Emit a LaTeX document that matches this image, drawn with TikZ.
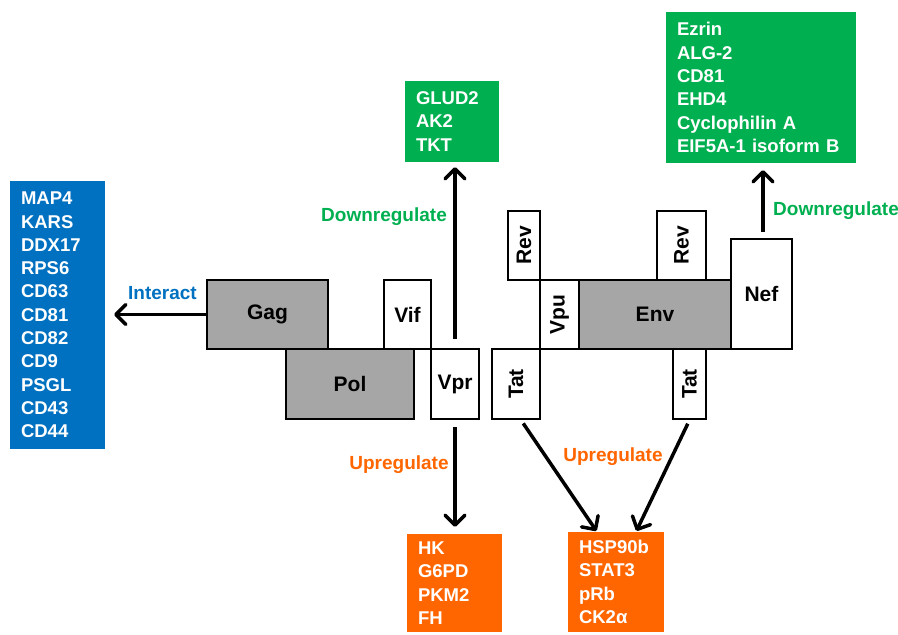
\documentclass[tikz,border=0pt]{standalone}
\usepackage{graphicx}
\usepackage{fontspec}
\setmainfont{Liberation Sans}
\usepackage{xcolor}
\usepackage{tikz}
\usetikzlibrary{arrows.meta,positioning,calc}

\definecolor{listblue}{HTML}{0070C0}
\definecolor{listgreen}{HTML}{00B050}
\definecolor{listorange}{HTML}{FF6600}
\definecolor{genegray}{HTML}{A6A6A6}

\begin{document}
\begin{tikzpicture}[x=1pt,y=-1pt,
  gene/.style={draw,line width=2.2pt,fill=white,inner sep=0pt,font=\fontsize{21}{24}\selectfont\bfseries},
  list/.style={fill=#1,text=white,align=left,inner xsep=11pt,inner ysep=0pt,font=\fontsize{18.5}{23.3}\selectfont\bfseries},
  lab/.style={text=#1,inner sep=0pt,font=\fontsize{19}{22}\selectfont\bfseries},
  arr/.style={->,line width=3.5pt},
  >={Straight Barb[length=10pt,width=20pt,round]}]
  \useasboundingbox (0,0) rectangle (898,635);
  % genome
  \node[gene,fill=genegray,minimum width=121pt,minimum height=69pt] (gag) at (267.5,314.5) {Gag};
  \node[gene,minimum width=47pt,minimum height=69pt] (vif) at (407.5,314.5) {Vif};
  \node[gene,fill=genegray,minimum width=128pt,minimum height=70pt] (pol) at (350,384) {Pol};
  \node[gene,minimum width=48pt,minimum height=70pt] (vpr) at (455,384) {Vpr};
  \node[gene,minimum width=48pt,minimum height=70pt] (tat1) at (516,384) {\rotatebox{90}{Tat}};
  \node[gene,minimum width=32pt,minimum height=69pt] (rev1) at (524,245.5) {\rotatebox{90}{Rev}};
  \node[gene,minimum width=39pt,minimum height=69pt] (vpu) at (559.5,314.5) {\rotatebox{90}{Vpu}};
  \node[gene,fill=genegray,minimum width=152pt,minimum height=69pt] (env) at (655,314.5) {Env};
  \node[gene,minimum width=49pt,minimum height=69pt] (rev2) at (681.5,245.5) {\rotatebox{90}{Rev}};
  \node[gene,minimum width=61pt,minimum height=110pt] (nef) at (761.5,294) {Nef};
  \node[gene,minimum width=33pt,minimum height=70pt] (tat2) at (689.5,384) {\rotatebox{90}{Tat}};
  % host factors
  \node[list=listblue,text width=73pt,minimum height=268pt] (hostbox) at (57.5,315)
    {MAP4\\KARS\\DDX17\\RPS6\\CD63\\CD81\\CD82\\CD9\\PSGL\\CD43\\CD44};
  \node[list=listgreen,text width=72pt,minimum height=81pt] (glud) at (452,121.5) {GLUD2\\AK2\\TKT};
  \node[list=listgreen,text width=168pt,minimum height=151pt] (ezrin) at (761,87.5)
    {Ezrin\\ALG-2\\CD81\\EHD4\\Cyclophilin A\\EIF5A-1 isoform B};
  \node[list=listorange,text width=73pt,minimum height=98pt] (hk) at (454.5,583) {HK\\G6PD\\PKM2\\FH};
  \node[list=listorange,text width=74pt,minimum height=100pt] (hsp) at (616,582) {HSP90b\\STAT3\\pRb\\CK2α};
  % arrows
  \draw[arr,shorten >=9pt] (gag.west) -- (gag.west -| hostbox.east);
  \draw[arr,shorten <=9pt,shorten >=5pt] (vpr.north) -- (vpr.north |- glud.south);
  \draw[arr,shorten <=7pt,shorten >=7pt] (vpr.south) -- (vpr.south |- hk.north);
  \draw[arr,shorten <=6pt,shorten >=7pt] ([xshift=1.5pt]nef.north) -- ([xshift=1.5pt]nef.north |- ezrin.south);
  \draw[arr,shorten <=4pt,shorten >=1pt] ([xshift=5pt]tat1.south) -- ([xshift=-19pt]hsp.north);
  \draw[arr,shorten <=4pt,shorten >=1pt] (tat2.south) -- ([xshift=20pt]hsp.north);
  % labels
  \node[lab=listblue] (interact) at (162.5,293) {Interact};
  \node[lab=listgreen] (down1) at (384,217) {Downregulate};
  \node[lab=listgreen] (down2) at (836,211) {Downregulate};
  \node[lab=listorange] (up1) at (399,465) {Upregulate};
  \node[lab=listorange] (up2) at (613,457) {Upregulate};
\end{tikzpicture}
\end{document}
